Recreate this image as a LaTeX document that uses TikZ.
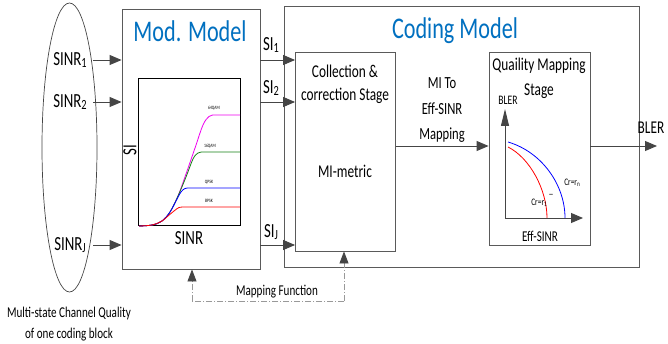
\documentclass[tikz,border=0pt]{standalone}
\usepackage{fontspec}
\setmainfont{Carlito}
\usepackage{graphicx}
\usetikzlibrary{shapes.geometric,arrows.meta}
\definecolor{ln}{HTML}{454545}
\definecolor{bx}{HTML}{5A5A5A}
\definecolor{ttl}{RGB}{0,112,192}
\definecolor{dgreen}{RGB}{20,130,20}
\definecolor{mag}{RGB}{240,0,240}
\newcommand{\cz}[1]{\scalebox{0.74}[1]{#1}}
\newcommand{\fs}[1]{\fontsize{#1}{#1}\selectfont}
\newcommand{\sbx}[2]{\raisebox{-1.5pt}{\fs{#1}#2}}
\begin{document}
\begin{tikzpicture}[x=1pt,y=-1pt,
  box/.style={draw=bx,line width=0.9pt,fill=white,inner sep=0pt},
  arr/.style={draw=ln,line width=0.9pt,-{Triangle[length=12pt,width=10pt]}},
  dd/.style={draw=gray!80,line width=0.8pt,dash pattern=on 6pt off 2pt on 1pt off 2pt},
  lbl/.style={inner sep=0pt,text=black},
]
\useasboundingbox (0,0) rectangle (668,344);
% ellipse
\node[draw=ln,line width=0.7pt,ellipse,minimum width=55pt,minimum height=289pt,inner sep=0pt] (ell) at (69.5,147.5) {};
% boxes
\node[box,minimum width=138pt,minimum height=260pt] (mod) at (191,139) {};
\node[box,minimum width=355pt,minimum height=261pt] (cod) at (461.5,136.5) {};
\node[box,minimum width=100pt,minimum height=199pt] (col) at (345.5,151.5) {};
\node[box,minimum width=101pt,minimum height=193pt] (qua) at (539.5,148.5) {};
% titles
\node[lbl,text=ttl] (modt) at (190,31) {\fs{30}\cz{Mod. Model}};
\node[lbl,text=ttl] (codt) at (455,31) {\fs{30}\cz{Coding Model}};
% SINR inputs
\node[lbl] (s1) at (70,60) {\fs{20}\cz{SINR\sbx{14}{1}}};
\node[lbl] (s2) at (70,102) {\fs{20}\cz{SINR\sbx{14}{2}}};
\node[lbl] (sj) at (70,245) {\fs{20}\cz{SINR\sbx{14}{J}}};
\coordinate (a1) at (93,60);
\coordinate (a2) at (93,102);
\coordinate (aj) at (93,245);
\draw[arr] (a1) -- (a1 -| mod.west);
\draw[arr] (a2) -- (a2 -| mod.west);
\draw[arr] (aj) -- (aj -| mod.west);
% SI outputs
\draw[arr] (a1 -| mod.east) -- (a1 -| col.west);
\draw[arr] (a2 -| mod.east) -- (a2 -| col.west);
\draw[arr] (aj -| mod.east) -- (aj -| col.west);
\node[lbl] (si1) at (271,45) {\fs{20}\cz{SI\sbx{14}{1}}};
\node[lbl] (si2) at (271,88) {\fs{20}\cz{SI\sbx{14}{2}}};
\node[lbl] (sij) at (271,232) {\fs{20}\cz{SI\sbx{14}{J}}};
% plot in Mod box
\node[draw=black,line width=1pt,minimum width=102pt,minimum height=147pt,inner sep=0pt] (plt) at (189,152.5) {};
\node[lbl,rotate=90] (siax) at (130,150) {\fs{20}\cz{SI}};
\node[lbl] (sinrax) at (189,238) {\fs{20}\cz{SINR}};
\draw[mag,line width=0.8pt] plot[smooth,tension=0.6] coordinates {(139,226) (152,225) (162,221) (170,212) (178,196) (186,174) (195,148) (203,125) (209,116.5) (214,115)} -- (240,115);
\draw[dgreen,line width=0.8pt] plot[smooth,tension=0.6] coordinates {(139,226) (152,225) (162,221) (170,212) (178,196) (186,177) (193,159) (198,153) (203,152)} -- (240,152);
\draw[blue,line width=0.8pt] plot[smooth,tension=0.6] coordinates {(139,226) (152,225) (162,221) (170,212) (176,201) (181,192) (185,188.5) (189,188)} -- (240,188);
\draw[red,line width=0.8pt] plot[smooth,tension=0.6] coordinates {(139,226) (152,225) (162,221) (168,216) (174,211) (179,207.5) (184,207)} -- (240,207);
\node[lbl] (q64) at (214,108) {\fs{5}\cz{64QAM}};
\node[lbl] (q16) at (210,146) {\fs{5}\cz{16QAM}};
\node[lbl] (qp) at (209,182) {\fs{5}\cz{QPSK}};
\node[lbl] (bp) at (209,201) {\fs{5}\cz{BPSK}};
% collection box text
\node[lbl] (ct1) at (345,71) {\fs{18}\cz{Collection \&}};
\node[lbl] (ct2) at (345,96) {\fs{18}\cz{correction Stage}};
\node[lbl] (ct3) at (345,171) {\fs{18}\cz{MI-metric}};
% MI to Eff-SINR
\node[lbl] (m1) at (442,83) {\fs{17}\cz{MI To}};
\node[lbl] (m2) at (442,109) {\fs{17}\cz{Eff-SINR}};
\node[lbl] (m3) at (442,135) {\fs{17}\cz{Mapping}};
\coordinate (mid) at (0,146);
\draw[arr] (mid -| col.east) -- (mid -| qua.west);
% quality box
\node[lbl] (qt1) at (539,66) {\fs{18}\cz{Quaility Mapping}};
\node[lbl] (qt2) at (539,91) {\fs{18}\cz{Stage}};
\coordinate (org) at (505,218);
\coordinate (ytip) at (505,109);
\coordinate (xtip) at (583,218);
\draw[draw=ln,line width=0.9pt,-{Triangle[length=17pt,width=8pt]}] (org) -- (ytip);
\draw[draw=ln,line width=0.9pt,-{Triangle[length=12pt,width=10pt]}] (org) -- (xtip);
\node[lbl] (bax) at (508,100) {\fs{13}\cz{BLER}};
\node[lbl] (eax) at (540,236) {\fs{15}\cz{Eff-SINR}};
\draw[red,line width=0.8pt] (508,147) .. controls (530,158) and (547,190) .. (547,218);
\draw[blue,line width=0.8pt] (508,142) .. controls (542,152) and (565,185) .. (565,218);
\node[lbl] (cr1) at (539,203) {\fs{10}\cz{Cr=r\raisebox{-1pt}{\fs{7}1}}};
\node[lbl] (crn) at (572,183) {\fs{10}\cz{Cr=r\raisebox{-1pt}{\fs{7}n}}};
\node[lbl] (dsh) at (551,196) {\fs{10}--};
% output
\draw[arr] (mid -| qua.east) -- (657,146) coordinate (otip);
\node[lbl] (bout) at (651,128) {\fs{18}\cz{BLER}};
% mapping function
\coordinate (mfl) at (192,301);
\coordinate (mfr) at (344,301);
\draw[dd] (mfl -| mfr) -- (mfl);
\draw[dd,-{Triangle[length=12pt,width=9pt,color=ln]}] (mfl) -- (mfl |- mod.south);
\draw[dd,-{Triangle[length=12pt,width=9pt,color=ln]}] (mfr) -- (mfr |- col.south);
\node[lbl] (mft) at (277,292) {\fs{15}\cz{Mapping Function}};
% caption
\node[lbl] (cap1) at (69,313) {\fs{15}\cz{Multi-state Channel Quality}};
\node[lbl] (cap2) at (69,335) {\fs{15}\cz{of one coding block}};
\end{tikzpicture}
\end{document}
